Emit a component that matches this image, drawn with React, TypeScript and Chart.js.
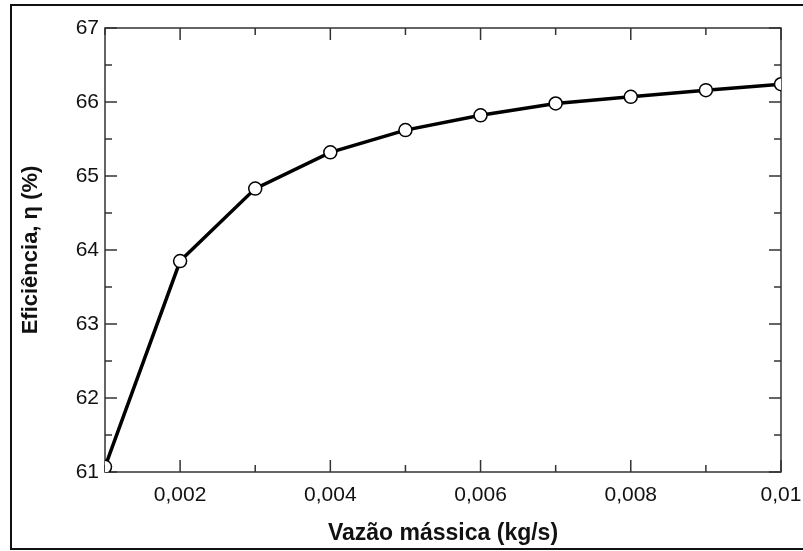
import React, { useEffect, useRef } from "react";
import { Chart, registerables } from "chart.js";

Chart.register(...registerables);

const massFlow = [0.001, 0.002, 0.003, 0.004, 0.005, 0.006, 0.007, 0.008, 0.009, 0.01];
const efficiency = [61.07, 63.85, 64.83, 65.32, 65.62, 65.82, 65.98, 66.07, 66.16, 66.24];

const xMajor = [0.002, 0.004, 0.006, 0.008, 0.01];
const xLabels = ["0,002", "0,004", "0,006", "0,008", "0,01"];
const xMinor = [0.001, 0.003, 0.005, 0.007, 0.009];

const yMajor = [61, 62, 63, 64, 65, 66, 67];
const yLabels = ["61", "62", "63", "64", "65", "66", "67"];
const yMinor = [61.5, 62.5, 63.5, 64.5, 65.5, 66.5];

const xTitle = "Vazão mássica (kg/s)";
const yTitle = "Eficiência, η (%)";

const FONT = "'Liberation Sans', Arial, sans-serif";
const AXIS_COLOR = "#333";

const findLabel = (vals: number[], labels: string[], v: number) => {
  const i = vals.findIndex((m) => Math.abs(m - v) < 1e-9);
  return i >= 0 ? labels[i] : "";
};

const framePlugin = {
  id: "framePlugin",
  beforeDatasetsDraw(chart: any) {
    const { ctx, chartArea } = chart;
    const { left, right, top, bottom } = chartArea;
    const xs = chart.scales.x;
    const ys = chart.scales.y;
    ctx.save();
    ctx.strokeStyle = "#111";
    ctx.lineWidth = 2;
    ctx.strokeRect(11, 5, 803, 544);
    ctx.strokeStyle = AXIS_COLOR;
    ctx.lineWidth = 1.5;
    ctx.strokeRect(left, top, right - left, bottom - top);
    const majorLen = 12;
    const minorLen = 7;
    ctx.beginPath();
    const xTick = (v: number, len: number) => {
      const px = xs.getPixelForValue(v);
      ctx.moveTo(px, bottom);
      ctx.lineTo(px, bottom - len);
      ctx.moveTo(px, top);
      ctx.lineTo(px, top + len);
    };
    const yTick = (v: number, len: number) => {
      const py = ys.getPixelForValue(v);
      ctx.moveTo(left, py);
      ctx.lineTo(left + len, py);
      ctx.moveTo(right, py);
      ctx.lineTo(right - len, py);
    };
    xMajor.forEach((v) => xTick(v, majorLen));
    xMinor.forEach((v) => xTick(v, minorLen));
    yMajor.forEach((v) => yTick(v, majorLen));
    yMinor.forEach((v) => yTick(v, minorLen));
    ctx.stroke();
    ctx.restore();
  },
};

export default function App() {
  const ref = useRef<HTMLCanvasElement | null>(null);

  useEffect(() => {
    document.body.style.margin = "0";
    const canvas = ref.current;
    if (!canvas) return;
    const chart = new Chart(canvas, {
      type: "line",
      data: {
        datasets: [
          {
            data: massFlow.map((x, i) => ({ x, y: efficiency[i] })),
            borderColor: "#000",
            borderWidth: 3.5,
            pointRadius: 6.5,
            pointBorderWidth: 1.5,
            pointBackgroundColor: "#fff",
            pointBorderColor: "#000",
            tension: 0,
            clip: 0,
          } as any,
        ],
      },
      options: {
        responsive: false,
        devicePixelRatio: 1,
        animation: false,
        layout: { padding: { top: 28, right: 22, left: 0, bottom: 0 } },
        plugins: {
          legend: { display: false },
          tooltip: { enabled: false },
        },
        scales: {
          x: {
            type: "linear",
            min: 0.001,
            max: 0.01,
            grid: { display: false, drawTicks: false },
            border: { display: false },
            afterBuildTicks: (scale: any) => {
              scale.ticks = [...xMajor].map((v) => ({ value: v }));
            },
            afterFit: (scale: any) => {
              scale.height = 79;
              scale.paddingLeft = 0;
              scale.paddingRight = 0;
            },
            ticks: {
              autoSkip: false,
              maxRotation: 0,
              padding: 11,
              color: "#111",
              font: { family: FONT, size: 21 },
              callback: (v: any) => findLabel(xMajor, xLabels, Number(v)),
            },
            title: {
              display: true,
              text: xTitle,
              color: "#111",
              font: { family: FONT, size: 23, weight: "bold" },
              padding: { top: 0, bottom: 4 },
            },
          },
          y: {
            type: "linear",
            min: 61,
            max: 67,
            grid: { display: false, drawTicks: false },
            border: { display: false },
            afterBuildTicks: (scale: any) => {
              scale.ticks = [...yMajor].map((v) => ({ value: v }));
            },
            afterFit: (scale: any) => {
              scale.width = 105;
              scale.paddingTop = 0;
              scale.paddingBottom = 0;
            },
            ticks: {
              autoSkip: false,
              padding: 6,
              color: "#111",
              font: { family: FONT, size: 21 },
              callback: (v: any) => findLabel(yMajor, yLabels, Number(v)),
            },
            title: {
              display: true,
              text: yTitle,
              color: "#111",
              font: { family: FONT, size: 22, weight: "bold" },
              padding: { top: 18, bottom: 0 },
            },
          },
        },
      } as any,
      plugins: [framePlugin],
    });
    return () => chart.destroy();
  }, []);

  return (
    <div style={{ width: 803, height: 551 }}>
      <canvas ref={ref} width={803} height={551} style={{ display: "block" }} />
    </div>
  );
}
